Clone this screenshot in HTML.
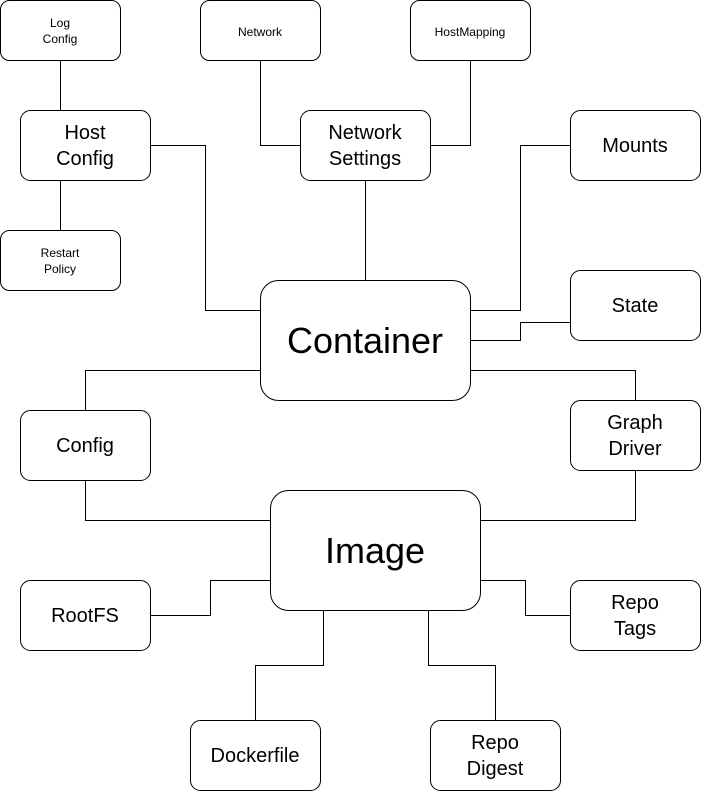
<!DOCTYPE html>
<html><head><meta charset="utf-8"><style>html,body{margin:0;padding:0;background:#fff}</style></head>
<body>
<svg width="701" height="791" viewBox="0 0 701 791" xmlns="http://www.w3.org/2000/svg" font-family="Liberation Sans, Helvetica, Arial, sans-serif">
<g fill="none" stroke="#000" stroke-width="1">
<path d="M60.5 60V110M60.5 180V230M260.5 60V145.5H300M470.5 60V145.5H430M365.5 180V280"/>
<path d="M150 145.5H205.5V310.5H260M570 145.5H520.5V310.5H470M570 322.5H520.5V340.5H470"/>
<path d="M260 370.5H85.5V410M470 370.5H635.5V400M85.5 480V520.5H270M635.5 470V520.5H480"/>
<path d="M150 615.5H210.5V580.5H270M480 580.5H525.5V615.5H570M323.5 610V665.5H255.5V720M428.5 610V665.5H495.5V720"/>
</g>
<g fill="#fff" stroke="#000" stroke-width="1">
<rect x="0.5" y="0.5" width="120" height="60" rx="9"/>
<rect x="200.5" y="0.5" width="120" height="60" rx="9"/>
<rect x="410.5" y="0.5" width="120" height="60" rx="9"/>
<rect x="20.5" y="110.5" width="130" height="70" rx="10"/>
<rect x="300.5" y="110.5" width="130" height="70" rx="10"/>
<rect x="570.5" y="110.5" width="130" height="70" rx="10"/>
<rect x="0.5" y="230.5" width="120" height="60" rx="9"/>
<rect x="570.5" y="270.5" width="130" height="70" rx="10"/>
<rect x="260.5" y="280.5" width="210" height="120" rx="18"/>
<rect x="20.5" y="410.5" width="130" height="70" rx="10"/>
<rect x="570.5" y="400.5" width="130" height="70" rx="10"/>
<rect x="270.5" y="490.5" width="210" height="120" rx="18"/>
<rect x="20.5" y="580.5" width="130" height="70" rx="10"/>
<rect x="570.5" y="580.5" width="130" height="70" rx="10"/>
<rect x="190.5" y="720.5" width="130" height="70" rx="10"/>
<rect x="430.5" y="720.5" width="130" height="70" rx="10"/>
</g>
<g text-anchor="middle" fill="#000">
<g font-size="12">
<text x="60" y="27">Log</text><text x="60" y="43">Config</text>
<text x="260" y="36">Network</text>
<text x="470" y="36">HostMapping</text>
<text x="60" y="257">Restart</text><text x="60" y="273">Policy</text>
</g>
<g font-size="20">
<text x="85" y="139">Host</text><text x="85" y="165">Config</text>
<text x="365" y="139">Network</text><text x="365" y="165">Settings</text>
<text x="635" y="152">Mounts</text>
<text x="635" y="312">State</text>
<text x="85" y="452">Config</text>
<text x="635" y="429">Graph</text><text x="635" y="455">Driver</text>
<text x="85" y="622">RootFS</text>
<text x="635" y="609">Repo</text><text x="635" y="635">Tags</text>
<text x="255" y="762">Dockerfile</text>
<text x="495" y="749">Repo</text><text x="495" y="775">Digest</text>
</g>
<g font-size="36">
<text x="365" y="353">Container</text>
<text x="375" y="563">Image</text>
</g>
</g>
</svg>
</body></html>
